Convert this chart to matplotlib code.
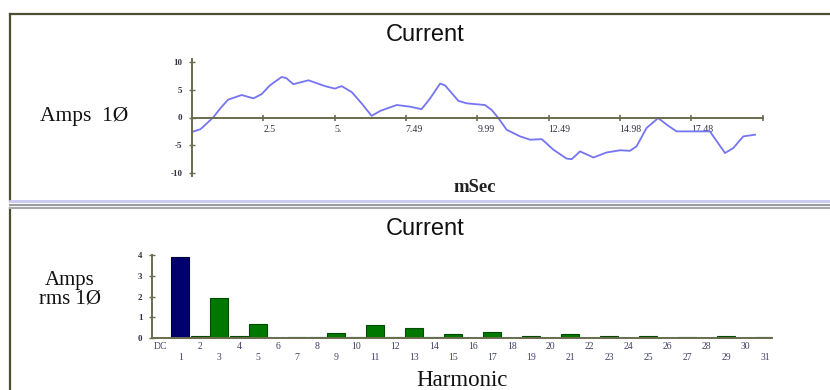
import matplotlib.pyplot as plt
from matplotlib.lines import Line2D

# waveform (ms, amps)
t_ms = [0, 0.3, 0.74, 1.0, 1.26, 1.74, 2.15, 2.44, 2.73, 3.14, 3.3, 3.55, 4.08,
        4.66, 5.0, 5.24, 5.59, 5.94, 6.29, 6.6, 7.17, 7.64, 8.04, 8.34, 8.69,
        8.86, 9.33, 9.62, 10.26, 10.5, 10.73, 11.02, 11.49, 11.84, 12.25, 12.66,
        13.12, 13.3, 13.59, 14.06, 14.52, 15.0, 15.34, 15.57, 15.92, 16.33,
        16.63, 16.97, 17.44, 18.14, 18.67, 18.96, 19.31, 19.72]
amps = [-2.6, -2.1, 0, 1.7, 3.2, 4.05, 3.45, 4.2, 5.8, 7.3, 7.1, 6.0, 6.7,
        5.65, 5.2, 5.65, 4.6, 2.55, 0.3, 1.2, 2.25, 1.95, 1.5, 3.45, 6.1,
        5.8, 3.0, 2.55, 2.25, 1.35, -0.1, -2.2, -3.4, -4.0, -3.9, -5.8,
        -7.4, -7.5, -6.1, -7.2, -6.3, -5.9, -6.0, -5.2, -1.9, -0.1,
        -1.3, -2.5, -2.5, -2.5, -6.4, -5.5, -3.4, -3.1]
t_ticks = [2.5, 5, 7.49, 9.99, 12.49, 14.98, 17.48, 20]
t_labels = ['2.5', '5.', '7.49', '9.99', '12.49', '14.98', '17.48', '']
y_ticks = [-10, -5, 0, 5, 10]

# harmonic spectrum
harmonics = list(range(32))
rms = [0, 3.88, 0.08, 1.92, 0.08, 0.69, 0.02, 0.03, 0.03, 0.22, 0.03, 0.62,
       0.03, 0.5, 0.04, 0.2, 0.02, 0.27, 0.02, 0.1, 0.02, 0.2, 0.02, 0.08,
       0.02, 0.09, 0.02, 0.03, 0.02, 0.09, 0.02, 0.03]
h_labels = ['DC'] + [str(h) if h % 2 == 0 else '\n' + str(h) for h in harmonics[1:]]
rms_ticks = [0, 1, 2, 3, 4]

W, H = 830, 390
fig = plt.figure(figsize=(W / 100, H / 100), dpi=100)

def fx(px):
    return px / W

def fy(py):
    return 1 - py / H

axc = '#6b6b4e'
txc = '#303040'

# panel frames
for xs, ys, c, lw in [([10, 830], [14, 14], '#4d4d33', 1.6),
                      ([10, 10], [14, 201], '#4d4d33', 1.6),
                      ([10, 10], [208, 390], '#4d4d33', 1.6),
                      ([10, 830], [201, 201], '#c8c8f0', 2.0),
                      ([10, 830], [204.5, 204.5], '#9a9aa8', 1.5),
                      ([10, 830], [207.5, 207.5], '#a8a8a8', 1.5)]:
    fig.add_artist(Line2D([fx(x) for x in xs], [fy(y) for y in ys], color=c, lw=lw))

# ---- top: waveform ----
ax1 = fig.add_axes([fx(192), fy(175.8), fx(571), 116.6 / H])
ax1.plot(t_ms, amps, color='#7474f4', lw=1.3)
ax1.set_xlim(0, 20)
ax1.set_ylim(-10.5, 10.5)
ax1.spines['top'].set_visible(False)
ax1.spines['right'].set_visible(False)
ax1.spines['bottom'].set_position(('data', 0))
for s in ['left', 'bottom']:
    ax1.spines[s].set_color(axc)
    ax1.spines[s].set_linewidth(1.4)
ax1.set_xticks(t_ticks)
ax1.set_xticklabels(t_labels, fontsize=7, family='Liberation Serif', color=txc, ha='left')
ax1.set_yticks(y_ticks)
ax1.set_yticklabels([str(v) for v in y_ticks], fontsize=6.5, family='Liberation Serif',
                    color=txc, fontweight='bold')
ax1.tick_params(axis='x', direction='inout', length=5, width=1.2, color=axc, pad=3)
ax1.tick_params(axis='y', direction='inout', length=4, width=1.0, color=axc, pad=5)
ax1.patch.set_visible(False)

fig.text(fx(425), fy(35), 'Current', ha='center', va='center', fontsize=17,
         family='Liberation Sans', color='#111111')
fig.text(fx(84), fy(117), 'Amps  1Ø', ha='center', va='center', fontsize=15.5,
         family='Liberation Serif', color='#111111')
fig.text(fx(475), fy(187), 'mSec', ha='center', va='center', fontsize=13.5,
         family='Liberation Serif', fontweight='bold', color='#222222')

# ---- bottom: harmonics ----
ax2 = fig.add_axes([fx(152), fy(338), 19.5 * 31.8 / W, 83 / H])
ax2.axhline(0.015, xmin=0.03, xmax=1, color='#a8f4f4', lw=1.6, zorder=1)
colors = ['#00006e' if h == 1 else '#007800' for h in harmonics]
edges = ['#00003a' if h == 1 else '#004a00' for h in harmonics]
ax2.bar(harmonics, rms, width=0.92, color=colors, edgecolor=edges, linewidth=0.8, zorder=2)
ax2.set_xlim(-0.45, 31.35)
ax2.set_ylim(0, 4)
ax2.spines['top'].set_visible(False)
ax2.spines['right'].set_visible(False)
for s in ['left', 'bottom']:
    ax2.spines[s].set_color(axc)
    ax2.spines[s].set_linewidth(1.4)
ax2.set_xticks(harmonics)
ax2.set_xticklabels(h_labels, fontsize=7, family='Liberation Serif', color='#404068',
                    linespacing=1.25, va='top')
ax2.set_yticks(rms_ticks)
ax2.set_yticklabels([str(v) for v in rms_ticks], fontsize=6.5, family='Liberation Serif',
                    color=txc, fontweight='bold')
ax2.tick_params(axis='x', length=0, pad=3)
ax2.tick_params(axis='y', direction='inout', length=4, width=1.0, color=axc, pad=5)
ax2.patch.set_visible(False)

fig.text(fx(425), fy(229), 'Current', ha='center', va='center', fontsize=17,
         family='Liberation Sans', color='#111111')
fig.text(fx(70), fy(290), 'Amps\nrms 1Ø', ha='center', va='center', fontsize=15,
         family='Liberation Serif', color='#111111', linespacing=0.95)
fig.text(fx(462), fy(381), 'Harmonic', ha='center', va='center', fontsize=16.5,
         family='Liberation Serif', color='#111111')

fig.savefig('out.png', dpi=100)
